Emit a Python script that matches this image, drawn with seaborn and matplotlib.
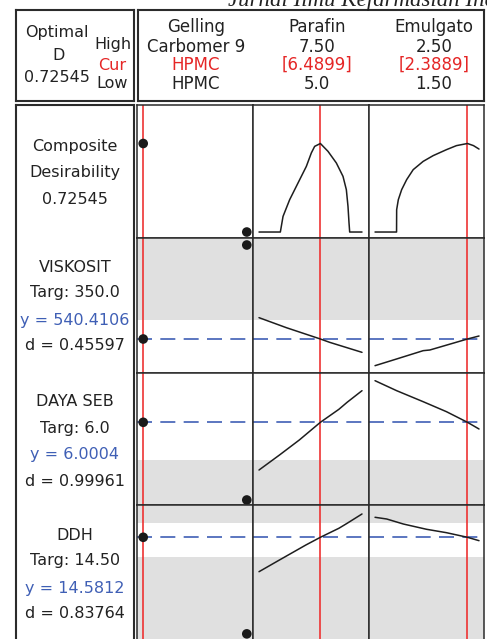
import matplotlib
matplotlib.use("Agg")
import matplotlib.pyplot as plt
import seaborn as sns
import pandas as pd

sns.set_theme(style="white")
plt.rcParams["font.family"] = ["DejaVu Sans"]

W, H = 487, 639

# ---- optimizer settings -------------------------------------------------
factor_names = ["Gelling", "Parafin", "Emulgato"]
factor_high = ["Carbomer 9", "7.50", "2.50"]
factor_cur = ["HPMC", "[6.4899]", "[2.3889]"]
factor_low = ["HPMC", "5.0", "1.50"]
gelling_levels = ["HPMC", "Carbomer 9"]
parafin_cur = 6.4899
emulgato_cur = 2.3889
optimal_d = 0.72545

responses = ["VISKOSIT", "DAYA SEB", "DDH"]
targets = ["350.0", "6.0", "14.50"]
predicted = [540.4106, 6.0004, 14.5812]
desirability = [0.45597, 0.99961, 0.83764]
lower_limits = [0.0, 5.0, 14.0]
upper_limits = [700.0, 8.0, 15.0]

# ---- composite desirability traces --------------------------------------
gelling_D = [0.72545, 0.0]
parafin_x_D = [5.0, 5.518, 5.583, 5.744, 5.947, 6.149, 6.270, 6.351, 6.4899,
               6.675, 6.877, 7.039, 7.120, 7.160, 7.185, 7.201, 7.5]
parafin_D = [0, 0, 0.128, 0.265, 0.402, 0.538, 0.648, 0.702, 0.72545,
             0.661, 0.566, 0.456, 0.347, 0.210, 0.074, 0, 0]
emulgato_x_D = [1.5, 1.707, 1.708, 1.724, 1.756, 1.804, 1.867, 1.963, 2.059,
                2.187, 2.283, 2.3889, 2.447, 2.5]
emulgato_D = [0, 0, 0.183, 0.265, 0.347, 0.429, 0.511, 0.579, 0.626,
              0.675, 0.708, 0.72545, 0.708, 0.680]

# ---- response traces -----------------------------------------------------
visk_gelling = [540.4106, 1330.0]
visk_parafin_x = [5.0, 5.663, 6.4899, 6.715, 7.5]
visk_parafin = [719.6, 635.6, 540.41, 512.4, 428.4]
visk_emulgato_x = [1.5, 1.676, 1.963, 2.027, 2.3889, 2.5]
visk_emulgato = [316.4, 364.0, 442.4, 448.0, 540.41, 565.6]

daya_gelling = [6.0004, 3.94]
daya_parafin_x = [5.0, 5.497, 5.978, 6.4899, 6.939, 7.139, 7.5]
daya_parafin = [4.735, 5.133, 5.531, 6.0004, 6.345, 6.531, 6.839]
daya_emulgato_x = [1.5, 1.708, 1.963, 2.187, 2.3889, 2.5]
daya_emulgato = [7.104, 6.839, 6.547, 6.282, 6.0004, 5.823]

ddh_gelling = [14.5812, 11.69]
ddh_parafin_x = [5.0, 5.497, 6.138, 6.4899, 6.939, 7.139, 7.5]
ddh_parafin = [13.551, 13.902, 14.351, 14.5812, 14.851, 15.0, 15.279]
ddh_emulgato_x = [1.5, 1.612, 1.772, 1.995, 2.187, 2.3889, 2.5]
ddh_emulgato = [15.180, 15.129, 14.979, 14.821, 14.719, 14.5812, 14.480]

row_ylims = [(-0.049, 1.041), (254.8, 1388.8), (3.807, 7.308), (11.476, 15.548)]
col_xlims = [(-0.06, 1.06), (4.854, 7.670), (1.442, 2.548)]

traces = [
    [(None, gelling_D), (parafin_x_D, parafin_D), (emulgato_x_D, emulgato_D)],
    [(None, visk_gelling), (visk_parafin_x, visk_parafin), (visk_emulgato_x, visk_emulgato)],
    [(None, daya_gelling), (daya_parafin_x, daya_parafin), (daya_emulgato_x, daya_emulgato)],
    [(None, ddh_gelling), (ddh_parafin_x, ddh_parafin), (ddh_emulgato_x, ddh_emulgato)],
]
current_x = [0, parafin_cur, emulgato_cur]

# ---- layout (pixel boxes) -----------------------------------------------
EDGE = "#2b2b2b"
RED = "#ee3333"
RED_TXT = "#e52626"
BLUE = "#3f5fb5"
GRAY = "#e0e0e0"
FS = 11.5
FS_HEAD = 12

fig = plt.figure(figsize=(W / 100, H / 100), dpi=100)
fig.patch.set_facecolor("white")


def box(x0, y0, x1, y1):
    return [x0 / W, 1 - y1 / H, (x1 - x0) / W, (y1 - y0) / H]


def frame(ax, lw=1.1):
    ax.set_xticks([])
    ax.set_yticks([])
    ax.set_facecolor("white")
    for s in ax.spines.values():
        s.set_visible(True)
        s.set_color(EDGE)
        s.set_linewidth(lw)


def txt(x, y, s, color="#222222", size=FS, **kw):
    fig.text(x / W, 1 - y / H, s, ha="center", va="center", color=color,
             fontsize=size, **kw)


# header and label boxes
for b in [(16, 10, 134, 101), (138, 10, 484, 101), (16, 105, 134, 645)]:
    a = fig.add_axes(box(*b))
    frame(a, lw=1.5)
    a.set_xlim(0, 1)
    a.set_ylim(0, 1)

cols = [(137, 253), (253, 369), (369, 484)]
rows = [(105, 238), (238, 373), (373, 505), (505, 641)]

for r, (y0, y1) in enumerate(rows):
    for c, (x0, x1) in enumerate(cols):
        ax = fig.add_axes(box(x0, y0, x1, y1))
        frame(ax, lw=1.1)
        ax.set_xlim(*col_xlims[c])
        ax.set_ylim(*row_ylims[r])
        lo, hi = row_ylims[r]
        if r > 0:
            k = r - 1
            if lower_limits[k] > lo:
                ax.axhspan(lo, lower_limits[k], color=GRAY, lw=0, zorder=0)
            if upper_limits[k] < hi:
                ax.axhspan(upper_limits[k], hi, color=GRAY, lw=0, zorder=0)
            ax.axhline(predicted[k], color=BLUE, lw=1.2, dashes=(9, 5), zorder=2)
        ax.axvline(current_x[c], color=RED, lw=1.2, zorder=2)
        xs, ys = traces[r][c]
        if xs is None:
            df = pd.DataFrame({"pos": [0, 1], "val": ys,
                               "level": gelling_levels})
            sns.scatterplot(data=df, x="pos", y="val", ax=ax, color="#1a1a1a",
                            s=48, edgecolor="none", zorder=4, clip_on=False)
        else:
            df = pd.DataFrame({"x": xs, "y": ys})
            sns.lineplot(data=df, x="x", y="y", ax=ax, color="#1e1e1e", lw=1.1,
                         estimator=None, sort=False, zorder=3)
        ax.set_xlabel("")
        ax.set_ylabel("")

# ---- header texts --------------------------------------------------------
txt(57, 33, "Optimal")
txt(59, 56, "D")
txt(57, 77, f"{optimal_d:.5f}")
txt(113, 45, "High")
txt(112, 66, "Cur", color=RED_TXT)
txt(112, 84, "Low")

col_centers = [196, 317, 434]
for c in range(3):
    txt(col_centers[c], 27, factor_names[c], size=FS_HEAD)
    txt(col_centers[c], 47, factor_high[c], size=FS_HEAD)
    txt(col_centers[c], 65, factor_cur[c], color=RED_TXT, size=FS_HEAD)
    txt(col_centers[c], 84, factor_low[c], size=FS_HEAD)

# ---- row labels ----------------------------------------------------------
txt(75, 147, "Composite")
txt(75, 173, "Desirability")
txt(75, 199, f"{optimal_d:.5f}")

label_tops = [267, 402, 535]
for k in range(3):
    y = label_tops[k]
    txt(75, y, responses[k])
    txt(75, y + 26, f"Targ: {targets[k]}")
    txt(75, y + 53, f"y = {predicted[k]:.4f}", color=BLUE)
    txt(75, y + 79, f"d = {desirability[k]:.5f}")

# running head of the page, cut by the top edge
fig.text(228 / W, 1 - 6 / H, "Jurnal Ilmu Kefarmasian Indonesia",
         ha="left", va="baseline", fontsize=16.5, style="italic",
         family=["Liberation Serif"], color="#222222")

fig.savefig("out.png", dpi=100, facecolor="white")
